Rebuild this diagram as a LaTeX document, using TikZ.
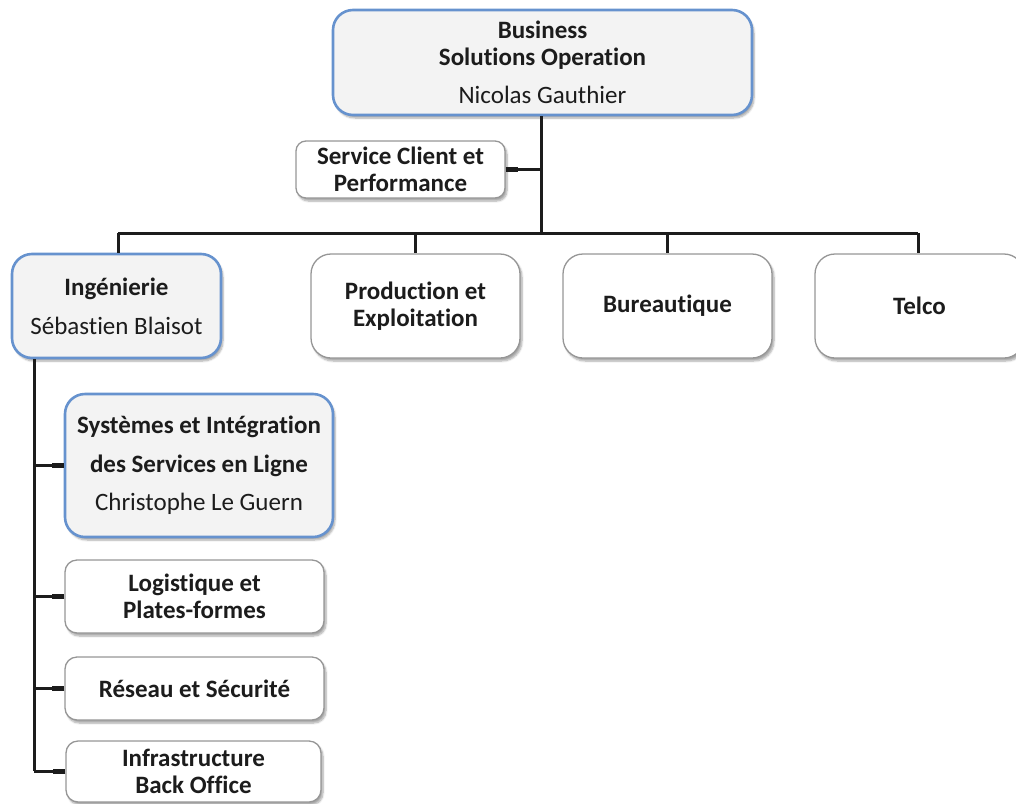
\documentclass[tikz,border=0pt]{standalone}
\usepackage{fontspec}
\setmainfont{Carlito}[RawFeature=-liga]
\usetikzlibrary{shadows.blur}
\definecolor{accent}{RGB}{102,146,206}
\definecolor{panel}{RGB}{243,243,243}
\definecolor{rim}{RGB}{150,150,150}
\definecolor{ink}{RGB}{28,28,28}

\tikzset{
  unit/.style={draw=rim, line width=1.3pt, fill=white, rounded corners=12pt,
    align=center, text=ink, inner sep=0pt,
    font=\fontsize{25}{27}\selectfont\bfseries,
    blur shadow={shadow xshift=2pt, shadow yshift=-3pt, shadow blur steps=6, shadow opacity=35}},
  bigunit/.style={unit, rounded corners=20pt},
  head/.style={bigunit, draw=accent, line width=2.6pt, fill=panel},
  link/.style={draw=ink, line width=3pt},
  stub/.style={draw=ink, line width=4.5pt}
}
\newcommand{\who}[1]{{\mdseries #1}}

\begin{document}
\begin{tikzpicture}[x=1pt,y=-1pt]
  \useasboundingbox (0,0) rectangle (1016,803);

  % top of the hierarchy
  \node[head, minimum width=419pt, minimum height=105pt] (bso) at (542.5,62.5)
    {Business\\Solutions Operation\\[11pt]\who{Nicolas Gauthier}};
  \node[unit, rounded corners=10pt, minimum width=209pt, minimum height=57pt] (scp) at (400.5,169.5)
    {Service Client et\\Performance};

  % second level
  \node[head, minimum width=209pt, minimum height=104pt] (ing) at (116.5,306)
    {Ingénierie\\[12pt]\who{Sébastien Blaisot}};
  \node[bigunit, minimum width=209pt, minimum height=104pt] (prod) at (415.5,306)
    {Production et\\Exploitation};
  \node[bigunit, minimum width=209pt, minimum height=104pt] (bur) at (667.5,306)
    {Bureautique};
  \node[bigunit, minimum width=209pt, minimum height=104pt] (tel) at (919.5,306)
    {Telco};

  % teams under Ingénierie
  \node[head, minimum width=268pt, minimum height=143pt] (sys) at (199,465.5)
    {Systèmes et Intégration\\[12pt]des Services en Ligne\\[11pt]\who{Christophe Le Guern}};
  \node[unit, minimum width=259pt, minimum height=73pt] (log) at (194.5,596.5)
    {Logistique et\\Plates-formes};
  \node[unit, minimum width=259pt, minimum height=63pt] (res) at (194.5,688.5)
    {Réseau et Sécurité};
  \node[unit, minimum width=255pt, minimum height=61pt] (inf) at (193.5,771.5)
    {Infrastructure\\Back Office};

  % connectors
  \coordinate (trunk) at (541,233);
  \coordinate (busL) at (118,233);
  \coordinate (busR) at (918,233);
  \coordinate (down) at (34,771);

  \path[link] (bso.south -| trunk) -- (trunk);
  \path[link] (scp.east) -- (scp.east -| trunk);
  \path[stub] (scp.east) -- ++(12,0);
  \path[link] (busL) -- (busR);
  \path[link] (busL) -- (busL |- ing.north);
  \path[link] (prod.north |- trunk) -- (prod.north);
  \path[link] (bur.north |- trunk) -- (bur.north);
  \path[link] (busR) -- (busR |- tel.north);

  \path[link] (ing.south -| down) -- (down);
  \foreach \n in {sys,log,res,inf}{
    \path[link] (\n.west -| down) -- (\n.west);
    \path[stub] (\n.west) -- ++(-12,0);
  }
\end{tikzpicture}
\end{document}
